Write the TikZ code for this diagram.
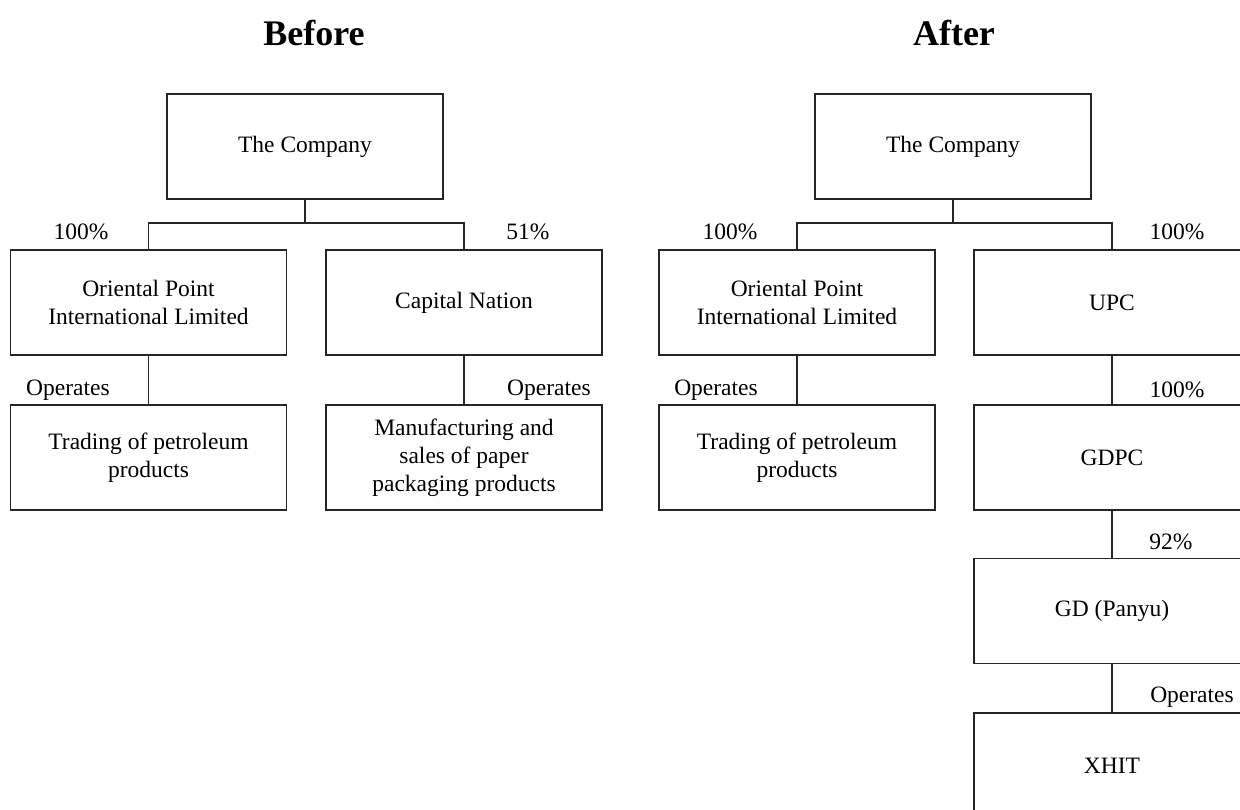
\documentclass[tikz,border=0pt]{standalone}
\usepackage{fontspec}
\setmainfont{Liberation Serif}
\begin{document}
\begin{tikzpicture}[x=1pt,y=-1pt,
  box/.style={draw=black!85,line width=1.2pt,minimum width=276pt,minimum height=105pt,inner sep=0pt,align=center,font=\fontsize{23.5}{28}\selectfont},
  lbl/.style={inner sep=0pt,font=\fontsize{23.5}{28}\selectfont},
  ttl/.style={inner sep=0pt,font=\fontsize{36}{40}\selectfont\bfseries},
  conn/.style={draw=black!85,line width=1.2pt}]
\path[use as bounding box,clip] (0,0) rectangle (1240,809);
% titles
\node[ttl] (tb) at (314,33) {Before};
\node[ttl] (ta) at (954,33) {After};
% Before
\node[box] (lc) at (305,146.5) {The Company};
\node[box] (lo) at (148.5,302.5) {Oriental Point\\International Limited};
\node[box] (lcap) at (464,302.5) {Capital Nation};
\node[box] (lt) at (148.5,457.5) {Trading of petroleum\\products};
\node[box] (lm) at (464,457.5) {Manufacturing and\\sales of paper\\packaging products};
\coordinate (lj) at (305,223);
\draw[conn] (lc.south) -- (lj) -| (lo.north);
\draw[conn] (lj) -| (lcap.north);
\draw[conn] (lo.south) -- (lt.north);
\draw[conn] (lcap.south) -- (lm.north);
\node[lbl] (p1) at (81,232) {100\%};
\node[lbl] (p2) at (528,232) {51\%};
\node[lbl] (o1) at (68,390) {Operates};
\node[lbl] (o2) at (549,390) {Operates};
% After
\node[box] (rc) at (953,146.5) {The Company};
\node[box] (ro) at (797,302.5) {Oriental Point\\International Limited};
\node[box] (ru) at (1112,302.5) {UPC};
\node[box] (rt) at (797,457.5) {Trading of petroleum\\products};
\node[box] (rg) at (1112,457.5) {GDPC};
\node[box] (rgd) at (1112,611) {GD (Panyu)};
\node[box] (rx) at (1112,765.5) {XHIT};
\coordinate (rj) at (953,223);
\draw[conn] (rc.south) -- (rj) -| (ro.north);
\draw[conn] (rj) -| (ru.north);
\draw[conn] (ro.south) -- (rt.north);
\draw[conn] (ru.south) -- (rg.north);
\draw[conn] (rg.south) -- (rgd.north);
\draw[conn] (rgd.south) -- (rx.north);
\node[lbl] (p3) at (730,232) {100\%};
\node[lbl] (p4) at (1177,232) {100\%};
\node[lbl] (o3) at (716,390) {Operates};
\node[lbl] (p5) at (1177,390) {100\%};
\node[lbl] (p6) at (1171,542) {92\%};
\node[lbl] (o4) at (1192,697) {Operates};
\end{tikzpicture}
\end{document}
